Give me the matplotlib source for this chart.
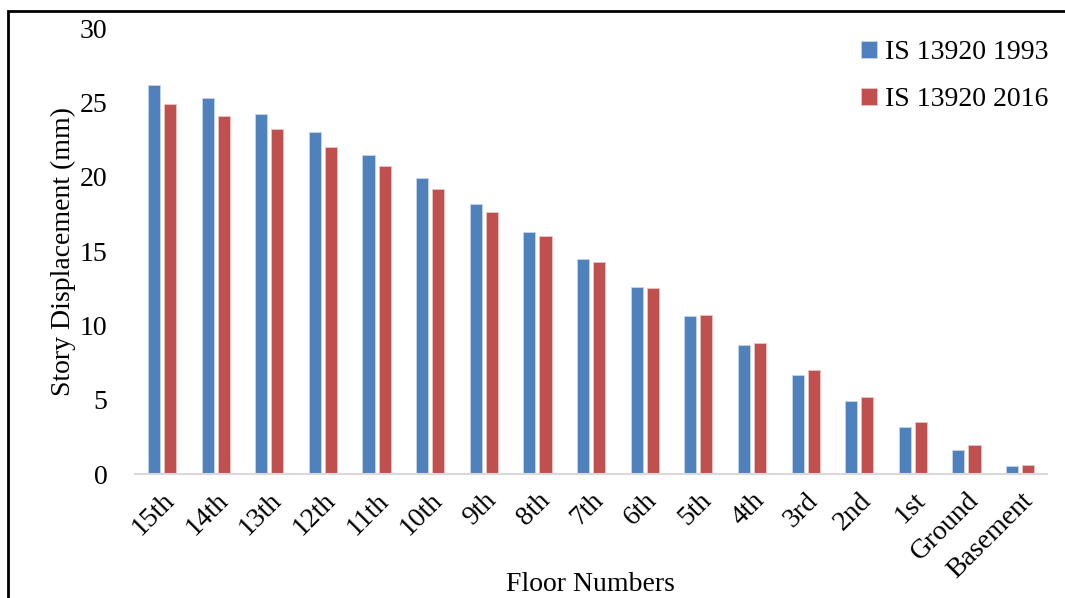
import matplotlib.pyplot as plt
from matplotlib.patches import Rectangle
import numpy as np

floors = ["15th", "14th", "13th", "12th", "11th", "10th", "9th", "8th", "7th",
          "6th", "5th", "4th", "3rd", "2nd", "1st", "Ground", "Basement"]
is_1993 = [26.2, 25.3, 24.2, 23.0, 21.5, 19.9, 18.2, 16.3, 14.5,
           12.6, 10.65, 8.7, 6.7, 4.9, 3.15, 1.6, 0.54]
is_2016 = [24.9, 24.1, 23.2, 22.0, 20.7, 19.2, 17.6, 16.0, 14.25,
           12.5, 10.7, 8.85, 7.0, 5.2, 3.5, 1.95, 0.62]

plt.rcParams['font.family'] = ['Liberation Serif', 'DejaVu Serif']

fig = plt.figure(figsize=(10.65, 5.98), dpi=100)
ax = fig.add_axes([0.127, 0.207, 0.856, 0.746])

x = np.arange(len(floors))
w = 0.225
ax.bar(x - 0.15, is_1993, w, color="#4f81bd", edgecolor="#c6d5ea", linewidth=0.6, label="IS 13920 1993")
ax.bar(x + 0.15, is_2016, w, color="#c0504d", edgecolor="#eac4c3", linewidth=0.6, label="IS 13920 2016")

ax.set_xlim(-0.5, len(floors) - 0.5)
ax.set_ylim(0, 30)
ax.set_yticks([0, 5, 10, 15, 20, 25, 30])
ax.set_xticks(x)
ax.set_xticklabels(floors, rotation=45, ha="right", va="top", rotation_mode="anchor")

for s in ["top", "right", "left"]:
    ax.spines[s].set_visible(False)
ax.spines["bottom"].set_color("#d9d9d9")
ax.spines["bottom"].set_linewidth(1.5)
ax.tick_params(axis="both", length=0, labelsize=20)
ax.tick_params(axis="y", pad=20)
ax.tick_params(axis="x", pad=10)

ax.set_ylabel("Story Displacement (mm)", fontsize=20)
ax.yaxis.set_label_coords(-0.065, 0.5)
ax.set_xlabel("Floor Numbers", fontsize=20, va="center")
ax.xaxis.set_label_coords(0.499, -0.247)

ax.legend(loc="upper right", bbox_to_anchor=(1.02, 1.01), frameon=False, fontsize=20,
          handlelength=0.55, handleheight=0.55, handletextpad=0.3, labelspacing=0.78,
          borderaxespad=0.2)

# figure border
fig.patches.append(Rectangle((8 / 1065, -0.1), 1.2, 1 - 11 / 598 + 0.1, transform=fig.transFigure,
                             fill=False, edgecolor="black", linewidth=2))

fig.savefig("out.png", dpi=100)
